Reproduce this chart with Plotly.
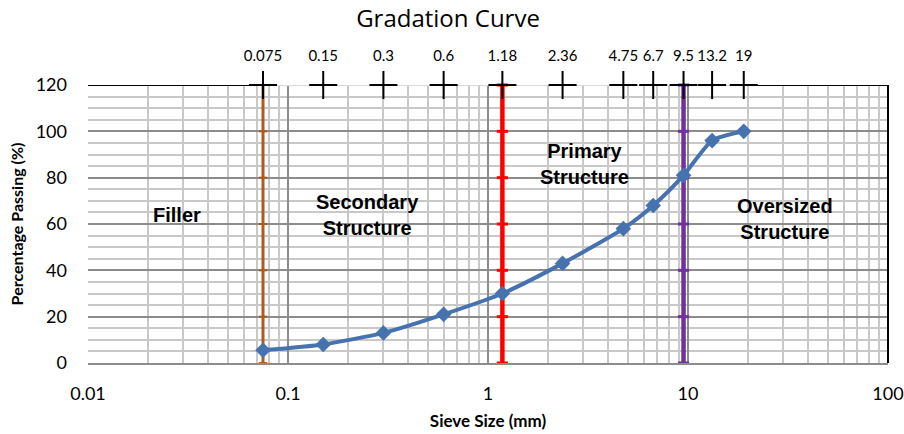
import math
import plotly.graph_objects as go

sieve_sizes = [0.075, 0.15, 0.3, 0.6, 1.18, 2.36, 4.75, 6.7, 9.5, 13.2, 19]
sieve_labels = ["0.075", "0.15", "0.3", "0.6", "1.18", "2.36", "4.75", "6.7", "9.5", "13.2", "19"]
percent_passing = [5.5, 8, 13, 21, 30, 43, 58, 68, 81, 96, 100]
boundary_sizes = [0.075, 1.18, 9.5]
boundary_colors = ["#B05A1E", "#FF0000", "#7030A0"]
boundary_widths = [3, 4.5, 4.5]
y_levels = [0, 20, 40, 60, 80, 100, 120]
zones = ["<b>Filler</b>", "<b>Secondary<br>Structure</b>", "<b>Primary<br>Structure</b>", "<b>Oversized<br>Structure</b>"]
zone_x = [0.028, 0.25, 3.05, 30.5]
zone_y = [64, 64, 86, 62]

CAL = "Lato, Open Sans, sans-serif"
TITLE_FONT = "Open Sans, Lato, sans-serif"
ARIAL = "Liberation Sans, Arial, sans-serif"

fig = go.Figure()

# top border: light between sieve extremes, black outside
fig.add_trace(go.Scatter(x=[sieve_sizes[0], sieve_sizes[-1]], y=[120, 120], mode="lines",
                         line=dict(color="#D9D9D9", width=2), showlegend=False, hoverinfo="skip",
                         cliponaxis=False))
fig.add_trace(go.Scatter(x=[0.01, sieve_sizes[0]], y=[120, 120], mode="lines",
                         line=dict(color="black", width=2), showlegend=False, hoverinfo="skip",
                         cliponaxis=False))
fig.add_trace(go.Scatter(x=[sieve_sizes[-1], 100], y=[120, 120], mode="lines",
                         line=dict(color="black", width=2), showlegend=False, hoverinfo="skip",
                         cliponaxis=False))

# boundary lines
for xb, c, w in zip(boundary_sizes, boundary_colors, boundary_widths):
    fig.add_trace(go.Scatter(x=[xb] * len(y_levels), y=y_levels, mode="lines+markers",
                             line=dict(color=c, width=w),
                             marker=dict(symbol="line-ew", size=8 if w > 3 else 6,
                                         line=dict(color=c, width=3 if w > 3 else 2)),
                             showlegend=False, cliponaxis=False, hoverinfo="skip"))

# top "+" markers
fig.add_trace(go.Scatter(x=sieve_sizes, y=[120] * len(sieve_sizes), mode="markers",
                         marker=dict(symbol="cross-thin", size=20, line=dict(color="black", width=2)),
                         showlegend=False, cliponaxis=False, hoverinfo="skip"))

# gradation curve
fig.add_trace(go.Scatter(x=sieve_sizes, y=percent_passing, mode="lines+markers",
                         line=dict(color="#4672B0", width=4, shape="spline", smoothing=0.6),
                         marker=dict(symbol="diamond", size=12, color="#4672B0"),
                         showlegend=False, cliponaxis=False))

# invisible trace for top axis
fig.add_trace(go.Scatter(x=sieve_sizes, y=percent_passing, xaxis="x2", mode="markers",
                         marker=dict(opacity=0), showlegend=False, hoverinfo="skip"))

for t, xz, yz in zip(zones, zone_x, zone_y):
    fig.add_annotation(x=math.log10(xz), y=yz, text=t, showarrow=False,
                       font=dict(family=ARIAL, size=20, color="black"),
                       align="center")

fig.update_layout(
    width=904, height=434,
    margin=dict(l=88, r=16, t=85, b=71),
    paper_bgcolor="white", plot_bgcolor="white",
    title=dict(text="Gradation Curve", x=0.4956, xanchor="center", y=0.958, yanchor="middle",
               font=dict(family=TITLE_FONT, size=24, color="black")),
    xaxis=dict(type="log", range=[-2, 2], dtick=1, automargin=False,
               tickvals=[0.01, 0.1, 1, 10, 100], ticktext=["0.01", "0.1", "1", "10", "100"],
               showgrid=True, gridcolor="#8C8C8C", gridwidth=2,
               minor=dict(dtick="D1", showgrid=True, gridcolor="#C8C8C8", gridwidth=2),
               showline=True, linecolor="#8C8C8C", linewidth=2,
               ticks="", ticklabelstandoff=13, zeroline=False, ticklabeloverflow="allow",
               tickfont=dict(family=CAL, size=18, color="black"),
               title=dict(text="<b>Sieve Size (mm)</b>", standoff=13,
                          font=dict(family=CAL, size=17, color="black"))),
    xaxis2=dict(type="log", range=[-2, 2], overlaying="x", side="top", automargin=False,
                tickvals=sieve_sizes, ticktext=sieve_labels, showgrid=False,
                ticks="outside", ticklen=17, tickcolor="rgba(0,0,0,0)",
                tickfont=dict(family=CAL, size=15, color="black"), showline=False,
                zeroline=False),
    yaxis=dict(range=[0, 120], dtick=20, showgrid=True, gridcolor="#8C8C8C", gridwidth=2,
               automargin=False,
               minor=dict(dtick=5, showgrid=True, gridcolor="#C8C8C8", gridwidth=2),
               showline=False, zeroline=False, ticks="", ticklabelstandoff=20,
               tickfont=dict(family=CAL, size=18, color="black"),
               title=dict(text="<b>Percentage Passing (%)</b>", standoff=8,
                          font=dict(family=CAL, size=16, color="black"))),
    shapes=[dict(type="line", xref="paper", yref="paper", x0=1, x1=1, y0=0, y1=1,
                 line=dict(color="black", width=2))],
)

fig.write_html("out.html", config={"displayModeBar": False},
               post_script="document.body.style.margin='0';document.body.style.overflow='hidden';")
